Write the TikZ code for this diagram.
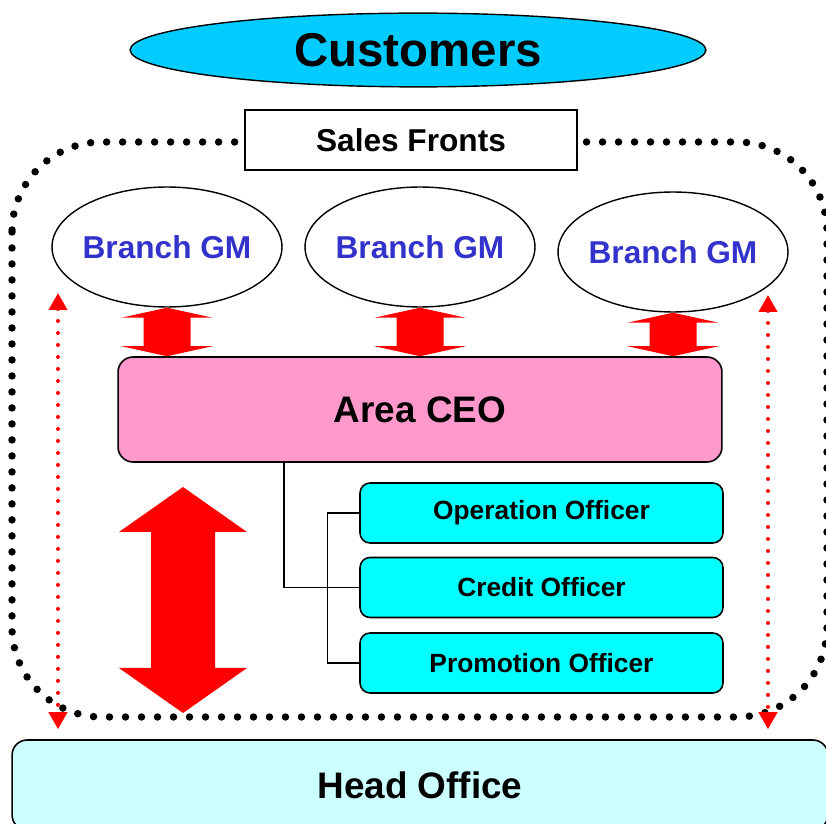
\documentclass[tikz,border=0pt]{standalone}
\usepackage{fontspec}
\setmainfont{Liberation Sans}
\tikzset{ > = stealth }
\usetikzlibrary{shapes.geometric,arrows.meta,calc}

\definecolor{custblue}{HTML}{00CCFF}
\definecolor{gmblue}{HTML}{3333CC}
\definecolor{ceopink}{HTML}{FF99CC}
\definecolor{offcyan}{HTML}{00FFFF}
\definecolor{hqcyan}{HTML}{CCFFFF}

% block double arrow: top, bottom, half shaft, half head, head length
\newcommand\twoway[5]{%
  \fill [red] (#1) -- ++(#4,#5) -- ++(#3-#4,0) -- ($(#2)+(#3,-#5)$)
    -- ++(#4-#3,0) -- (#2) -- ++(-#4,-#5) -- ++(#4-#3,0)
    -- ($(#1)+(-#3,#5)$) -- ++(#3-#4,0) -- cycle;}

\begin{document}
\begin{tikzpicture}
  [
    x = 0.02cm, y = -0.02cm,
    every node/.style = { font = \bfseries, inner sep = 1ex },
    gm/.style = { draw, ellipse, line width = 0.8pt, minimum width = 4.6cm,
      minimum height = 2.4cm, inner xsep = -0.08cm, inner ysep = 0pt, text = gmblue,
      font = \fontsize{18}{20}\selectfont\bfseries },
    officer/.style = { draw, rounded corners = 0.2cm, line width = 0.9pt,
      fill = offcyan, minimum width = 7.26cm, minimum height = 1.2cm,
      font = \fontsize{15}{17}\selectfont\bfseries },
    reddots/.style = { red, line width = 0.08cm, line cap = round,
      dash pattern = on 0pt off 0.24cm,
      {Triangle[length=0.34cm,width=0.36cm]}-{Triangle[length=0.34cm,width=0.36cm]} }
  ]
    \useasboundingbox (0,0) rectangle (826,824);

    % sales front boundary
    \draw [line width = 0.15cm, line cap = round, dash pattern = on 0pt off 0.32cm,
      rounded corners = 1.8cm] (12,142) rectangle (827,717);

    \node (cust) [draw, ellipse, line width = 0.8pt, fill = custblue,
      minimum width = 11.52cm, minimum height = 1.44cm,
      font = \fontsize{27}{30}\selectfont\bfseries] at (418,50) {Customers};
    \node (sales) [draw, rectangle, line width = 0.8pt, fill = white,
      minimum width = 6.64cm, minimum height = 1.2cm,
      font = \fontsize{18}{20}\selectfont\bfseries] at (411,140) {Sales Fronts};

    \node (gm1) [gm] at (167,247) {Branch GM};
    \node (gm2) [gm] at (420,247) {Branch GM};
    \node (gm3) [gm] at (673,252) {Branch GM};

    \node (ceo) [draw, rounded corners = 0.3cm, line width = 0.9pt, fill = ceopink,
      minimum width = 12.08cm, minimum height = 2.1cm,
      font = \fontsize{21}{24}\selectfont\bfseries] at (420,409.5) {Area CEO};

    \node (op) [officer] at (541.5,513) {Operation Officer};
    \node (cr) [officer] at (541.5,587.5) {Credit Officer};
    \node (pr) [officer] at (541.5,663) {Promotion Officer};

    \node (head) [draw, rounded corners = 0.3cm, line width = 0.9pt, fill = hqcyan,
      minimum width = 16.32cm, minimum height = 1.8cm,
      font = \fontsize{21}{24}\selectfont\bfseries] at (420,785) {Head Office};

    % reporting lines
    \draw [line width = 0.7pt] (cr.west) -| ([xshift=-2.72cm]ceo.south);
    \draw [line width = 0.7pt] (op.west) -- ++(-32,0) |- (pr.west);

    % branch <-> area CEO
    \twoway{gm1.south}{gm1.south |- ceo.north}{23.5}{45.5}{10}
    \twoway{gm2.south}{gm2.south |- ceo.north}{23.5}{45.5}{10}
    \twoway{gm3.south}{gm3.south |- ceo.north}{23.5}{45.5}{10}

    % sales fronts <-> head office
    \coordinate (bigup) at (183,487);
    \coordinate (bigdown) at (183,713);
    \twoway{bigup}{bigdown}{32}{64}{45}

    \coordinate (lup) at (58,293);
    \coordinate (rup) at (768,295);
    \draw [reddots, shorten > = 0.2cm] (lup) -- (lup |- head.north);
    \draw [reddots, shorten > = 0.2cm] (rup) -- (rup |- head.north);
\end{tikzpicture}
\end{document}
